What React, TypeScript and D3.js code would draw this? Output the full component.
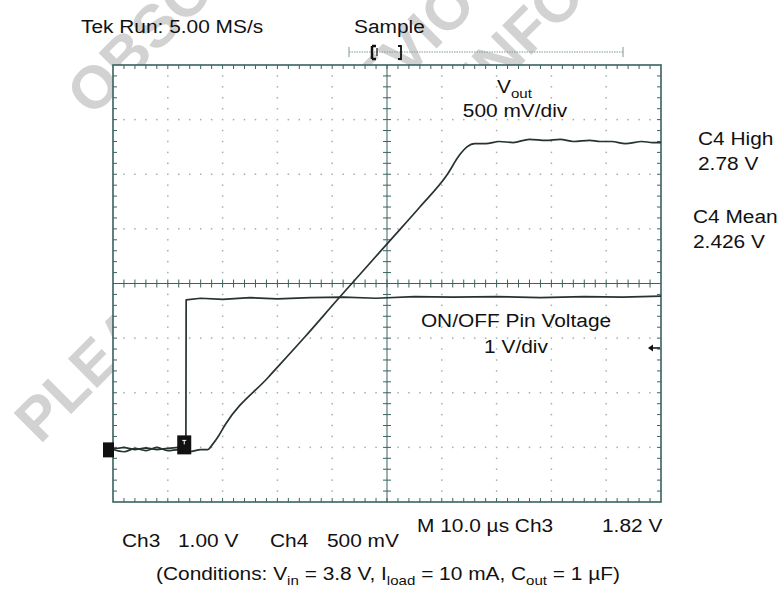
import React from "react";
import * as d3 from "d3";

// ---- data (time in µs, volts) ----
const voutTime = [0, 2, 4, 6, 8, 10, 12, 14, 16, 17.3, 18.2, 19.2, 20.5, 28.3, 35, 41.1, 50.5, 56, 60.9, 63.3, 64.6, 66, 68, 70.5, 73, 76, 79, 81.6, 84, 87, 88.9, 91, 93.5, 96.5, 98.5, 100];
const voutVolts = [-0.02, -0.04, -0.01, -0.03, 0.0, -0.03, -0.02, -0.04, -0.02, -0.02, 0.03, 0.1, 0.21, 0.64, 1.01, 1.36, 1.89, 2.2, 2.49, 2.68, 2.75, 2.78, 2.78, 2.8, 2.79, 2.82, 2.81, 2.82, 2.8, 2.81, 2.8, 2.8, 2.78, 2.8, 2.79, 2.79];

const onoffTime = [0, 2, 4, 6, 8, 10, 12, 13.3, 13.35, 16, 20, 25, 30, 36, 42, 48, 55, 62, 70, 78, 86, 93, 100];
const onoffVolts = [-0.03, 0.0, -0.04, -0.01, -0.04, -0.02, 0.0, -0.02, 2.7, 2.73, 2.71, 2.74, 2.72, 2.74, 2.75, 2.73, 2.76, 2.75, 2.76, 2.74, 2.76, 2.75, 2.77];

const ch3Trigger = 1.82; // V
const timeDomain = [0, 100]; // µs (10 µs/div)
const ch4Domain = [-0.5, 3.5]; // 500 mV/div
const ch3Domain = [-1, 7]; // 1 V/div
const xDivs = 10;
const yDivs = 8;
const minor = 5;

// background watermark lines (text, baseline start)
const watermarkText = ["OBSOLETE DEVICE", "PLEASE SEE PREVIOUS", "INFORMATION"];
const watermarkStart = [[92, 118], [40, 445], [486, 100]];

const FONT = "'Liberation Sans', Arial, Helvetica, sans-serif";
const SX = 1.16;

const T = ({ x, y, anchor = "start", size = 18, children }: any) => (
  <text
    transform={`translate(${x},${y}) scale(${SX},1)`}
    textAnchor={anchor}
    fontSize={size}
    fontFamily={FONT}
    fill="#111"
  >
    {children}
  </text>
);

export default function App() {
  const L = 113, R = 661, TOP = 65, B = 502;
  const x = d3.scaleLinear().domain(timeDomain).range([L, R]);
  const y4 = d3.scaleLinear().domain(ch4Domain).range([B, TOP]);
  const y3 = d3.scaleLinear().domain(ch3Domain).range([B, TOP]);
  const xd = d3.scaleLinear().domain([0, xDivs]).range([L, R]);
  const yd = d3.scaleLinear().domain([0, yDivs]).range([B, TOP]);

  const gridCol = "#3a625f";
  const dotCol = "#9fb0ae";
  const traceCol = "#26332f";

  const dots: any[] = [];
  for (let i = 1; i < xDivs; i++) {
    if (i === xDivs / 2) continue;
    for (let k = 1; k < yDivs * minor; k++) {
      dots.push(<rect key={`v${i}-${k}`} x={xd(i) - 0.75} y={yd(k / minor) - 0.75} width={1.5} height={1.5} fill={dotCol} />);
    }
  }
  for (let j = 1; j < yDivs; j++) {
    if (j === yDivs / 2) continue;
    for (let k = 1; k < xDivs * minor; k++) {
      if (k % minor === 0) continue;
      dots.push(<rect key={`h${j}-${k}`} x={xd(k / minor) - 0.75} y={yd(j) - 0.75} width={1.5} height={1.5} fill={dotCol} />);
    }
  }

  const ticks: string[] = [];
  for (let k = 1; k < xDivs * minor; k++) {
    const px = xd(k / minor);
    ticks.push(`M${px},${TOP}v4`, `M${px},${B}v-4`, `M${px},${yd(yDivs / 2) - 4}v8`);
  }
  for (let k = 1; k < yDivs * minor; k++) {
    const py = yd(k / minor);
    ticks.push(`M${L},${py}h4`, `M${R},${py}h-4`, `M${xd(xDivs / 2) - 4},${py}h8`);
  }

  const line4 = d3.line<number>().x((_, i) => x(voutTime[i])).y((v) => y4(v)).curve(d3.curveMonotoneX);
  const line3 = d3.line<number>().x((_, i) => x(onoffTime[i])).y((v) => y3(v));

  const trigY = y3(ch3Trigger);
  const gnd = y4(0);

  return (
    <svg width={783} height={592} style={{ position: "absolute", left: 0, top: 0, background: "#fff" }}>
      <rect width={783} height={592} fill="#fff" />
      {/* watermark */}
      <g fill="#d2d2d2" fontFamily={FONT} fontWeight="bold" fontSize={60}>
        {watermarkText.map((t, i) => (
          <text key={i} transform={`translate(${watermarkStart[i][0]},${watermarkStart[i][1]}) rotate(-45)`}>{t}</text>
        ))}
      </g>
      {/* screen area (opaque) */}
      <rect x={L} y={TOP} width={R - L} height={B - TOP} fill="#fff" />

      {/* record bar */}
      <line x1={349} x2={623} y1={52} y2={52} stroke="#7f9a97" strokeWidth={1} strokeDasharray="1.5 1" />
      <path d={`M349,47v10M623,47v10`} stroke="#7f9a97" strokeWidth={1} />
      <path d="M372,46h4M372,46v13M372,59h4" stroke="#111" strokeWidth={2.5} fill="none" />
      <path d="M377,48v8" stroke="#111" strokeWidth={1.2} />
      <path d="M398,46h3v13h-3" stroke="#111" strokeWidth={1.8} fill="none" />

      {/* graticule */}
      <g>{dots}</g>
      <line x1={L} x2={R} y1={yd(yDivs / 2)} y2={yd(yDivs / 2)} stroke={gridCol} strokeWidth={1} />
      <line x1={xd(xDivs / 2)} x2={xd(xDivs / 2)} y1={TOP} y2={B} stroke={gridCol} strokeWidth={1} />
      <path d={ticks.join("")} stroke={gridCol} strokeWidth={1} />
      <rect x={L} y={TOP} width={R - L} height={B - TOP} fill="none" stroke={gridCol} strokeWidth={1.6} />

      {/* traces */}
      <path d={line3(onoffVolts) || ""} fill="none" stroke={traceCol} strokeWidth={1.7} strokeLinejoin="round" />
      <path d={line4(voutVolts) || ""} fill="none" stroke={traceCol} strokeWidth={1.7} strokeLinejoin="round" />

      {/* markers */}
      <rect x={103} y={gnd - 5} width={11} height={15} fill="#111" />
      <rect x={x(13.0) - 7} y={gnd - 12} width={14} height={19} fill="#111" />
      <path d={`M${x(13.0) - 2},${gnd - 7}h4M${x(13.0)},${gnd - 7}v4`} stroke="#fff" strokeWidth={1} />
      <path d={`M${R - 1},${trigY}h-11`} stroke="#111" strokeWidth={1.5} />
      <path d={`M${R - 13},${trigY}l5,-3.5v7z`} fill="#111" />

      {/* labels */}
      <T x={81} y={33}>Tek Run: 5.00 MS/s</T>
      <T x={354} y={33}>Sample</T>
      <T x={497} y={93}>
        V<tspan fontSize={13} dy={5}>out</tspan>
      </T>
      <T x={515} y={117} anchor="middle">500 mV/div</T>
      <T x={698} y={145}>C4 High</T>
      <T x={698} y={170}>2.78 V</T>
      <T x={693} y={223}>C4 Mean</T>
      <T x={693} y={248}>2.426 V</T>
      <T x={516} y={327} anchor="middle">ON/OFF Pin Voltage</T>
      <T x={516} y={353} anchor="middle">1 V/div</T>
      <T x={122} y={547}>Ch3</T>
      <T x={178} y={547}>1.00 V</T>
      <T x={270} y={547}>Ch4</T>
      <T x={327} y={547}>500 mV</T>
      <T x={417} y={532}>M 10.0 µs  Ch3</T>
      <T x={602} y={532}>1.82 V</T>
      <T x={388} y={580} anchor="middle">
        (Conditions: V<tspan fontSize={13} dy={5}>in</tspan>
        <tspan dy={-5}> = 3.8 V, I</tspan>
        <tspan fontSize={13} dy={5}>load</tspan>
        <tspan dy={-5}> = 10 mA, C</tspan>
        <tspan fontSize={13} dy={5}>out</tspan>
        <tspan dy={-5}> = 1 µF)</tspan>
      </T>
    </svg>
  );
}
